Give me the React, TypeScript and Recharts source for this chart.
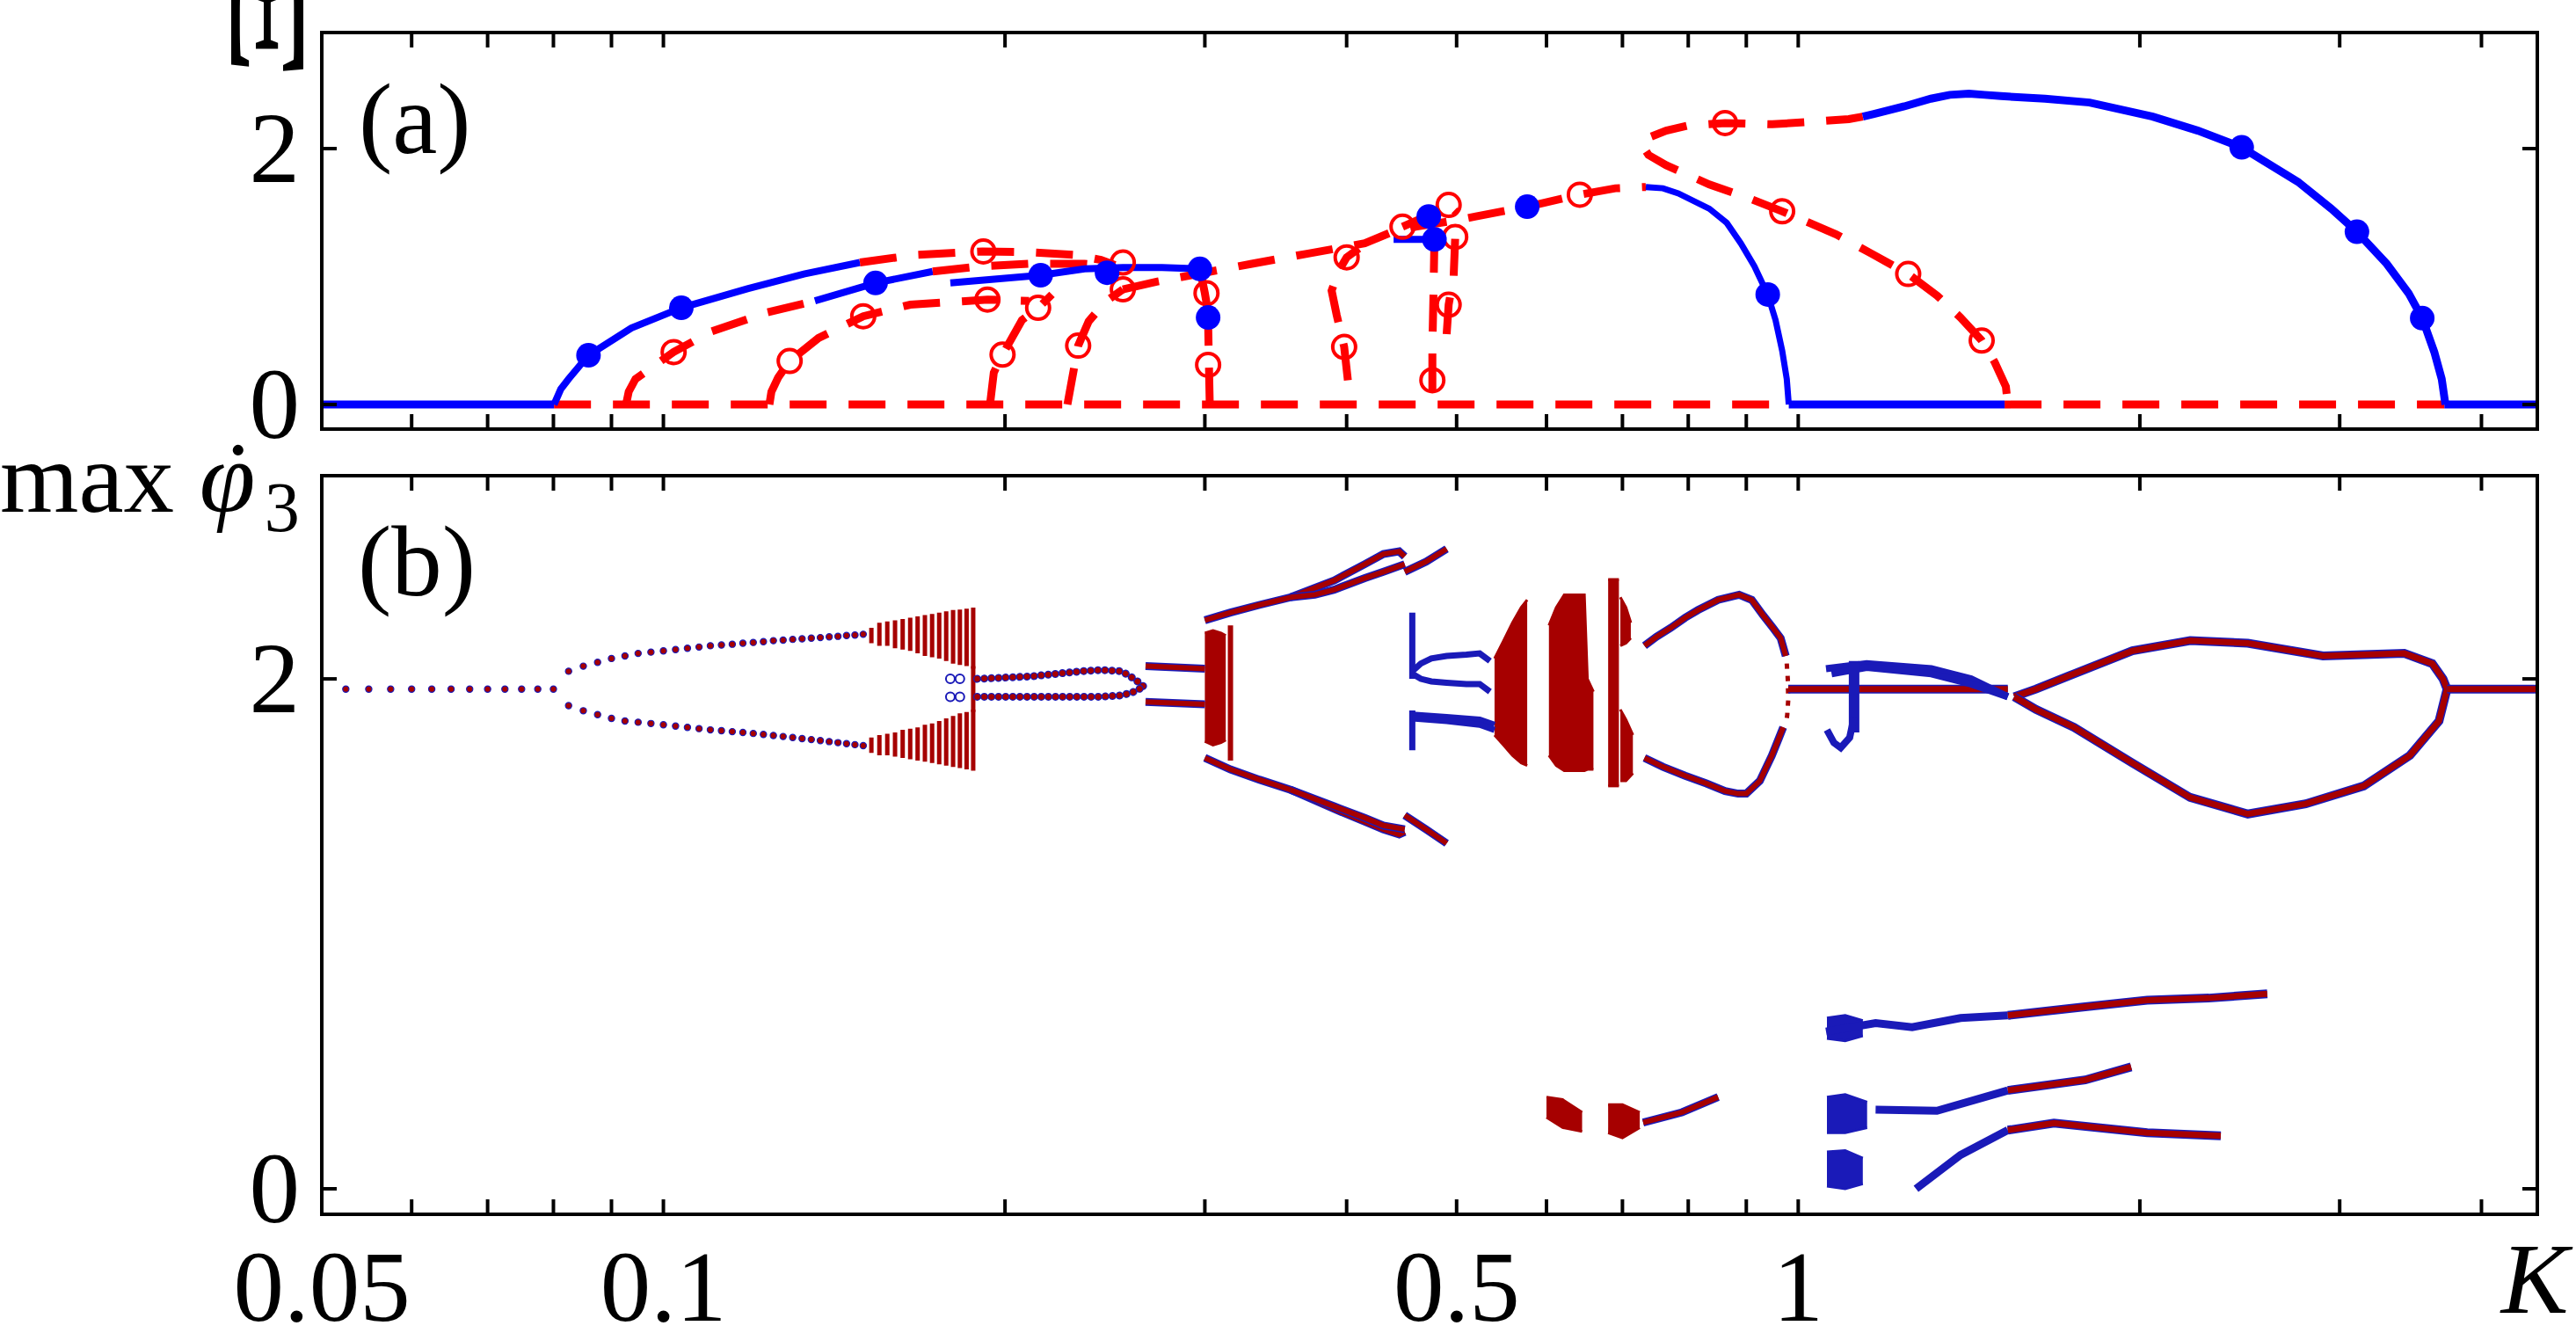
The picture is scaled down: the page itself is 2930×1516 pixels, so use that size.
import React from 'react';
import { ComposedChart, Line, Scatter, Area, XAxis, YAxis } from 'recharts';

type Pt = [number, number];
type Rg = [number, number, number];

const K_MIN = 0.05;
const K_MAX = 4.48;
const kTicks = [0.05, 0.06, 0.07, 0.08, 0.09, 0.1, 0.2, 0.3, 0.4, 0.5, 0.6, 0.7, 0.8, 0.9, 1, 2, 3, 4];
const kLabels: Record<string, string> = { '0.05': '0.05', '0.1': '0.1', '0.5': '0.5', '1': '1' };
const yTicks = [0, 2];

// ---------- panel (a): Xi vs K ----------
const baseBlue1: Pt[] = [[0.05, 0], [0.0801, 0]];
const baseRed1: Pt[] = [[0.0801, 0], [0.981, 0]];
const baseBlue2: Pt[] = [[0.981, 0], [1.52, 0]];
const baseRed2: Pt[] = [[1.52, 0], [3.71, 0]];
const baseBlue3: Pt[] = [[3.71, 0], [4.48, 0]];

const br1Blue: Pt[] = [[0.0801, 0], [0.0812, 0.12], [0.0825, 0.2], [0.0859, 0.385], [0.0937, 0.598], [0.1037, 0.756], [0.1186, 0.905], [0.133, 1.02], [0.149, 1.11]];
const br1Red: Pt[] = [[0.149, 1.11], [0.167, 1.17], [0.191, 1.196], [0.21, 1.19], [0.23, 1.17], [0.243, 1.13], [0.25, 1.09]];
const br2RedA: Pt[] = [[0.0927, 0], [0.0932, 0.1], [0.0945, 0.2], [0.1021, 0.41], [0.1102, 0.57], [0.1234, 0.72], [0.136, 0.81]];
const br2Blue: Pt[] = [[0.136, 0.81], [0.1538, 0.95], [0.1727, 1.04]];
const br2RedB: Pt[] = [[0.1727, 1.04], [0.19, 1.08], [0.21, 1.1], [0.235, 1.1], [0.25, 1.08]];
const br3Red: Pt[] = [[0.124, 0], [0.1245, 0.1], [0.1262, 0.21], [0.1292, 0.34], [0.137, 0.52], [0.15, 0.69], [0.165, 0.78], [0.193, 0.82], [0.21, 0.81]];
const br4Red: Pt[] = [[0.194, 0], [0.1955, 0.25], [0.199, 0.39], [0.207, 0.66], [0.214, 0.756], [0.22, 0.86]];
const br5Red: Pt[] = [[0.227, 0], [0.2297, 0.25], [0.232, 0.46], [0.237, 0.65], [0.245, 0.8], [0.254, 0.9]];
const blueMid: Pt[] = [[0.179, 0.95], [0.215, 1.01], [0.235, 1.06], [0.254, 1.07], [0.275, 1.07], [0.297, 1.06]];
const br6RedA: Pt[] = [[0.303, 0], [0.3025, 0.31], [0.302, 0.64]];
const br6Blue: Pt[] = [[0.302, 0.64], [0.302, 0.72]];
const br6RedB: Pt[] = [[0.302, 0.72], [0.3, 0.87], [0.297, 1.06]];
const mainRed: Pt[] = [[0.254, 0.9], [0.272, 0.96], [0.33, 1.1], [0.37, 1.18], [0.415, 1.26], [0.439, 1.35], [0.46, 1.39], [0.5, 1.44], [0.52, 1.47], [0.577, 1.546], [0.642, 1.64], [0.69, 1.69], [0.734, 1.7]];
const blueFall: Pt[] = [[0.734, 1.7], [0.76, 1.69], [0.784, 1.65], [0.835, 1.53], [0.865, 1.42], [0.89, 1.26], [0.915, 1.08], [0.94, 0.86], [0.955, 0.66], [0.968, 0.42], [0.977, 0.2], [0.981, 0]];
const foldRed: Pt[] = [[1.14, 2.25], [1.108, 2.23], [1.03, 2.21], [0.949, 2.19], [0.862, 2.2], [0.8, 2.18], [0.765, 2.14], [0.74, 2.09], [0.727, 2.04], [0.738, 1.95], [0.765, 1.87], [0.835, 1.72], [0.9, 1.62], [0.968, 1.51], [1.08, 1.33], [1.16, 1.18], [1.25, 1.02], [1.326, 0.85], [1.39, 0.68], [1.451, 0.5], [1.49, 0.33], [1.524, 0.14], [1.53, 0]];
const archBlue: Pt[] = [[1.14, 2.25], [1.166, 2.27], [1.24, 2.33], [1.309, 2.39], [1.36, 2.42], [1.414, 2.43], [1.46, 2.42], [1.509, 2.41], [1.65, 2.39], [1.806, 2.36], [2.053, 2.25], [2.25, 2.14], [2.459, 2.01], [2.757, 1.74], [2.95, 1.53], [3.107, 1.35], [3.3, 1.1], [3.45, 0.87], [3.547, 0.675], [3.635, 0.41], [3.69, 0.2], [3.718, 0]];
const br7Red: Pt[] = [[0.401, 0.19], [0.398, 0.45], [0.392, 0.7], [0.388, 0.89], [0.394, 1.05], [0.4, 1.15], [0.41, 1.22]];
const br8Red: Pt[] = [[0.476, 0.11], [0.476, 0.45], [0.477, 0.83], [0.478, 1.29]];
const br9Red: Pt[] = [[0.49, 0.55], [0.492, 0.78], [0.497, 1.0], [0.4986, 1.31]];
const blueCluster: Pt[] = [[0.44, 1.29], [0.478, 1.29], [0.485, 1.31]];
const redCluster: Pt[] = [[0.448, 1.39], [0.47, 1.47], [0.492, 1.56], [0.5, 1.5]];

const blueDotsA: Pt[] = [[0.0859, 0.385], [0.1037, 0.756], [0.1538, 0.95], [0.215, 1.01], [0.246, 1.03], [0.297, 1.06], [0.302, 0.68], [0.4725, 1.47], [0.478, 1.29], [0.577, 1.546], [0.94, 0.86], [2.459, 2.01], [3.107, 1.35], [3.547, 0.675]];
const redRingsA: Pt[] = [[0.1021, 0.41], [0.1292, 0.34], [0.15, 0.69], [0.1914, 1.196], [0.193, 0.82], [0.199, 0.39], [0.2139, 0.756], [0.232, 0.46], [0.254, 0.9], [0.254, 1.11], [0.302, 0.31], [0.301, 0.87], [0.398, 0.45], [0.4, 1.15], [0.448, 1.39], [0.476, 0.19], [0.492, 0.78], [0.492, 1.56], [0.4986, 1.31], [0.642, 1.64], [0.862, 2.2], [0.968, 1.51], [1.25, 1.02], [1.451, 0.5]];

// ---------- panel (b): max phi3' vs K ----------
const bP1: Pt[] = [[0.0525, 1.96], [0.055, 1.96], [0.0575, 1.96], [0.06, 1.96], [0.0625, 1.96], [0.065, 1.96], [0.0675, 1.96], [0.07, 1.96], [0.0725, 1.96], [0.075, 1.96], [0.0775, 1.96], [0.08, 1.96]];
const bP2Up: Pt[] = [[0.0825, 2.03], [0.085, 2.05], [0.0875, 2.065], [0.09, 2.08], [0.0925, 2.09], [0.095, 2.1], [0.0975, 2.105], [0.1, 2.11], [0.1025, 2.115], [0.105, 2.12], [0.1075, 2.125], [0.11, 2.13], [0.1125, 2.133], [0.115, 2.136], [0.1175, 2.14], [0.12, 2.143], [0.1225, 2.146], [0.125, 2.15], [0.1275, 2.152], [0.13, 2.155], [0.1325, 2.157], [0.135, 2.16], [0.1375, 2.162], [0.14, 2.165], [0.1425, 2.167], [0.145, 2.17], [0.1475, 2.172], [0.15, 2.175]];
const bP2Lo: Pt[] = [[0.0825, 1.895], [0.085, 1.875], [0.0875, 1.86], [0.09, 1.845], [0.0925, 1.835], [0.095, 1.83], [0.0975, 1.825], [0.1, 1.82], [0.1025, 1.815], [0.105, 1.81], [0.1075, 1.805], [0.11, 1.8], [0.1125, 1.797], [0.115, 1.793], [0.1175, 1.79], [0.12, 1.786], [0.1225, 1.782], [0.125, 1.778], [0.1275, 1.774], [0.13, 1.77], [0.1325, 1.766], [0.135, 1.762], [0.1375, 1.758], [0.14, 1.754], [0.1425, 1.75], [0.145, 1.746], [0.1475, 1.742], [0.15, 1.738]];
const bHatchUp: Rg[] = [[0.1525, 2.14, 2.2], [0.155, 2.13, 2.22], [0.1575, 2.13, 2.225], [0.16, 2.12, 2.23], [0.1625, 2.115, 2.235], [0.165, 2.11, 2.24], [0.1675, 2.1, 2.245], [0.17, 2.09, 2.25], [0.1725, 2.085, 2.255], [0.175, 2.08, 2.26], [0.1775, 2.07, 2.265], [0.18, 2.06, 2.27], [0.1825, 2.055, 2.272], [0.185, 2.05, 2.275], [0.1875, 2.04, 2.28]];
const bHatchLo: Rg[] = [[0.1525, 1.71, 1.77], [0.155, 1.7, 1.78], [0.1575, 1.7, 1.785], [0.16, 1.695, 1.79], [0.1625, 1.69, 1.8], [0.165, 1.685, 1.805], [0.1675, 1.68, 1.81], [0.17, 1.675, 1.82], [0.1725, 1.67, 1.825], [0.175, 1.665, 1.835], [0.1775, 1.66, 1.845], [0.18, 1.655, 1.855], [0.1825, 1.65, 1.865], [0.185, 1.645, 1.87], [0.1875, 1.64, 1.88]];
const bCenter: Rg[] = [[0.1875, 1.87, 2.05]];
const bRings1: Pt[] = [[0.179, 2.0], [0.179, 1.93], [0.1825, 2.0], [0.1825, 1.93]];
const bP2bUp: Pt[] = [[0.189, 2.0], [0.211, 2.01], [0.2335, 2.03], [0.243, 2.035], [0.2534, 2.03], [0.26, 2.0], [0.265, 1.97]];
const bP2bLo: Pt[] = [[0.189, 1.93], [0.211, 1.93], [0.2335, 1.93], [0.243, 1.93], [0.2534, 1.935], [0.26, 1.95], [0.265, 1.97]];
const bP2cUp: Pt[] = [[0.266, 2.05], [0.3, 2.04]];
const bP2cLo: Pt[] = [[0.266, 1.91], [0.3, 1.9]];
const bBand: Rg[] = [[0.3, 1.755, 2.18], [0.305, 1.74, 2.19], [0.31, 1.75, 2.18], [0.313, 1.76, 2.17]];
const bBandTall: Rg[] = [[0.316, 1.68, 2.21]];
const bUp1: Pt[] = [[0.3, 2.23], [0.316, 2.26], [0.335, 2.29], [0.357, 2.32], [0.39, 2.386], [0.415, 2.45], [0.431, 2.49], [0.445, 2.5], [0.45, 2.48]];
const bUp2: Pt[] = [[0.357, 2.32], [0.375, 2.33], [0.39, 2.35], [0.415, 2.395], [0.431, 2.42], [0.45, 2.45]];
const bUp3: Pt[] = [[0.45, 2.42], [0.47, 2.46], [0.49, 2.51]];
const bLo1: Pt[] = [[0.3, 1.69], [0.316, 1.645], [0.335, 1.605], [0.357, 1.565], [0.39, 1.49], [0.415, 1.44], [0.431, 1.41], [0.445, 1.39], [0.45, 1.4]];
const bLo2: Pt[] = [[0.357, 1.565], [0.39, 1.5], [0.415, 1.455], [0.431, 1.425], [0.45, 1.41]];
const bLo3: Pt[] = [[0.45, 1.465], [0.47, 1.41], [0.49, 1.355]];
const bBlueCol: Rg[] = [[0.457, 2.0, 2.26], [0.457, 1.72, 1.876]];
const bBub1: Pt[] = [[0.457, 2.03], [0.465, 2.06], [0.475, 2.08], [0.49, 2.09], [0.51, 2.095], [0.524, 2.1], [0.535, 2.07]];
const bBub2: Pt[] = [[0.457, 2.02], [0.465, 2.0], [0.475, 1.99], [0.49, 1.985], [0.51, 1.98], [0.524, 1.98], [0.535, 1.95]];
const bBub3: Pt[] = [[0.457, 1.86], [0.49, 1.85], [0.524, 1.84], [0.54, 1.82]];
const bBub4: Pt[] = [[0.457, 1.845], [0.49, 1.835], [0.524, 1.82], [0.54, 1.8]];
const bBlob1: Rg[] = [[0.54, 1.78, 2.08], [0.55, 1.74, 2.15], [0.56, 1.7, 2.22], [0.57, 1.67, 2.28], [0.577, 1.66, 2.31]];
const bBlob2: Rg[] = [[0.603, 1.7, 2.21], [0.612, 1.66, 2.28], [0.622, 1.64, 2.33], [0.64, 1.64, 2.33], [0.648, 1.64, 2.33], [0.652, 1.645, 2.0], [0.66, 1.645, 1.95]];
const bBlob3: Rg[] = [[0.68, 1.58, 2.39], [0.695, 1.58, 2.39]];
const bBlob3Lo: Rg[] = [[0.697, 1.6, 1.88], [0.705, 1.6, 1.84], [0.715, 1.63, 1.78]];
const bBlob3Up: Rg[] = [[0.697, 2.13, 2.32], [0.705, 2.14, 2.28], [0.712, 2.16, 2.22]];
const bLoopUp: Pt[] = [[0.732, 2.13], [0.75, 2.165], [0.772, 2.2], [0.795, 2.24], [0.816, 2.27], [0.85, 2.31], [0.887, 2.33], [0.91, 2.31], [0.931, 2.25], [0.95, 2.2], [0.965, 2.16], [0.975, 2.09]];
const bLoopLo: Pt[] = [[0.732, 1.69], [0.76, 1.655], [0.795, 1.62], [0.83, 1.59], [0.862, 1.56], [0.885, 1.55], [0.9, 1.55], [0.925, 1.6], [0.948, 1.7], [0.962, 1.77], [0.97, 1.81]];
const bLoopEnd: Pt[] = [[0.977, 2.06], [0.978, 2.03], [0.979, 2.0], [0.98, 1.92], [0.979, 1.89], [0.978, 1.86], [0.976, 1.83]];
const bLine1: Pt[] = [[0.98, 1.96], [1.53, 1.96]];
const bLoopRUp: Pt[] = [[1.55, 1.93], [1.62, 1.96], [1.75, 2.02], [1.97, 2.11], [2.215, 2.15], [2.49, 2.14], [2.9, 2.09], [3.15, 2.095], [3.42, 2.1], [3.62, 2.06], [3.7, 2.0], [3.73, 1.96]];
const bLoopRLo: Pt[] = [[1.55, 1.93], [1.62, 1.88], [1.75, 1.81], [1.97, 1.67], [2.215, 1.535], [2.49, 1.47], [2.8, 1.51], [3.15, 1.58], [3.46, 1.7], [3.67, 1.835], [3.73, 1.96]];
const bLine2: Pt[] = [[3.73, 1.96], [4.48, 1.96]];
const bBundle1: Pt[] = [[1.058, 2.04], [1.149, 2.06], [1.31, 2.04], [1.42, 2.0], [1.53, 1.93]];
const bBundle2: Pt[] = [[1.07, 2.02], [1.149, 2.045], [1.31, 2.02], [1.42, 1.98], [1.53, 1.93]];
const bBlueBar: Rg[] = [[1.12, 1.79, 2.07]];
const bHook: Pt[] = [[1.06, 1.8], [1.075, 1.75], [1.09, 1.73], [1.11, 1.77], [1.12, 1.85]];
const bLowABlue: Pt[] = [[1.058, 0.617], [1.17, 0.65], [1.26, 0.634], [1.39, 0.67], [1.53, 0.68]];
const bLowARed: Pt[] = [[1.53, 0.68], [1.79, 0.714], [2.03, 0.74], [2.3, 0.748], [2.59, 0.765]];
const bLowBBlue: Pt[] = [[1.17, 0.31], [1.325, 0.306], [1.53, 0.386]];
const bLowBRed: Pt[] = [[1.53, 0.386], [1.79, 0.427], [1.965, 0.478]];
const bLowCBlue: Pt[] = [[1.27, 0.0], [1.39, 0.133], [1.53, 0.23]];
const bLowCRed: Pt[] = [[1.53, 0.23], [1.68, 0.258], [2.03, 0.22], [2.357, 0.208]];
const bLowBlueBlobs: Rg[] = [[1.06, 0.59, 0.67], [1.1, 0.58, 0.68], [1.14, 0.6, 0.66]];
const bLowBlueBlobs2: Rg[] = [[1.06, 0.22, 0.36], [1.1, 0.22, 0.37], [1.15, 0.24, 0.34]];
const bLowBlueBlobs3: Rg[] = [[1.06, 0.01, 0.145], [1.1, 0.0, 0.15], [1.14, 0.02, 0.12]];
const bLowRedBlob1: Rg[] = [[0.6, 0.28, 0.36], [0.62, 0.24, 0.35], [0.645, 0.225, 0.3]];
const bLowRedBlob2: Rg[] = [[0.68, 0.22, 0.33], [0.7, 0.2, 0.33], [0.725, 0.24, 0.3]];
const bLowRedCurve: Pt[] = [[0.73, 0.26], [0.79, 0.3], [0.85, 0.36]];

// ---------- styling ----------
const RED_A = '#ff0000';
const BLUE_A = '#0000ff';
const RED_B = '#a60000';
const BLUE_B = '#1a1ab8';
const FONT = '"Liberation Serif", "Times New Roman", serif';
const FS = 115;
const DASH = '42 25';

const pts = (a: Pt[]) => a.map(([k, v]) => ({ k, v }));
const segs = (a: Rg[]) => a.flatMap(([k, lo, hi]) => [{ k, v: lo }, { k, v: hi }, { k, v: null }]);
const rng = (a: Rg[]) => a.map(([k, lo, hi]) => ({ k, r: [lo, hi] }));

function ln(key: string, data: any[], stroke: string, width: number, dash?: string, cap: any = 'butt') {
  return (
    <Line key={key} data={data} dataKey="v" type="linear" stroke={stroke} strokeWidth={width}
      strokeDasharray={dash} strokeLinecap={cap} dot={false} activeDot={false}
      isAnimationActive={false} connectNulls={false} />
  );
}
function outlined(key: string, data: Pt[], w = 6) {
  return [ln(key + 'b', pts(data), BLUE_B, w + 3), ln(key + 'r', pts(data), RED_B, w)];
}
function blob(key: string, data: Rg[], color = RED_B) {
  return (
    <Area key={key} data={rng(data)} dataKey="r" type="linear" stroke={color} strokeWidth={3}
      fill={color} fillOpacity={1} dot={false} activeDot={false} isAnimationActive={false} />
  );
}

const axisStyle = { stroke: '#000', strokeWidth: 4, strokeLinecap: 'square' as const };

function frame(yDomain: [number, number], withLabels: boolean, labelDy: number) {
  return [
    <XAxis key="xb" xAxisId={0} dataKey="k" type="number" scale="log" domain={[K_MIN, K_MAX]} allowDataOverflow
      ticks={kTicks} interval={0} height={1} tickSize={0} tickMargin={0} tickLine={false} axisLine={axisStyle}
      tick={(p: any) => (
        <g>
          <line x1={p.x} x2={p.x} y1={p.y} y2={p.y - 17} stroke="#000" strokeWidth={4} />
          {withLabels && kLabels[String(p.payload.value)] ? (
            <text x={p.x} y={p.y + labelDy} textAnchor="middle" fontFamily={FONT} fontSize={FS} fill="#000">
              {kLabels[String(p.payload.value)]}
            </text>
          ) : null}
        </g>
      )} />,
    <XAxis key="xt" xAxisId="top" orientation="top" dataKey="k" type="number" scale="log" domain={[K_MIN, K_MAX]} allowDataOverflow
      ticks={kTicks} interval={0} height={1} tickSize={0} tickMargin={0} tickLine={false} axisLine={axisStyle}
      tick={(p: any) => <line x1={p.x} x2={p.x} y1={p.y} y2={p.y + 17} stroke="#000" strokeWidth={4} />} />,
    <YAxis key="yl" yAxisId={0} dataKey="v" type="number" domain={yDomain} allowDataOverflow ticks={yTicks} interval={0}
      width={1} tickSize={0} tickMargin={0} tickLine={false} axisLine={axisStyle}
      tick={(p: any) => (
        <g>
          <line x1={p.x} x2={p.x + 17} y1={p.y} y2={p.y} stroke="#000" strokeWidth={4} />
          <text x={p.x - 25} y={p.y + 38} textAnchor="end" fontFamily={FONT} fontSize={FS} fill="#000">{p.payload.value}</text>
        </g>
      )} />,
    <YAxis key="yr" yAxisId="right" orientation="right" dataKey="v" type="number" domain={yDomain} allowDataOverflow ticks={yTicks}
      interval={0} width={1} tickSize={0} tickMargin={0} tickLine={false} axisLine={axisStyle}
      tick={(p: any) => <line x1={p.x} x2={p.x - 17} y1={p.y} y2={p.y} stroke="#000" strokeWidth={4} />} />,
  ];
}

const blueDot = (p: any) => <circle cx={p.cx} cy={p.cy} r={14} fill={BLUE_A} />;
const redRing = (p: any) => <circle cx={p.cx} cy={p.cy} r={13} fill="none" stroke={RED_A} strokeWidth={4} />;
const smallDot = (p: any) => <circle cx={p.cx} cy={p.cy} r={3.6} fill={RED_B} stroke={BLUE_B} strokeWidth={1.2} />;
const smallRing = (p: any) => <circle cx={p.cx} cy={p.cy} r={5} fill="none" stroke={BLUE_B} strokeWidth={2} />;

function PanelA() {
  const red = (k: string, d: Pt[]) => ln(k, pts(d), RED_A, 9, DASH);
  const blue = (k: string, d: Pt[], w = 8) => ln(k, pts(d), BLUE_A, w);
  return (
    <ComposedChart width={2930} height={540} margin={{ top: 36, right: 43, bottom: 51, left: 365 }}>
      {frame([-0.192, 2.907], false, 0)}
      {red('r1', baseRed1)}
      {red('r2', baseRed2)}
      {blue('b1', baseBlue1, 9)}
      {blue('b2', baseBlue2, 9)}
      {blue('b3', baseBlue3, 9)}
      {blue('br1b', br1Blue)}
      {red('br1r', br1Red)}
      {red('br2a', br2RedA)}
      {blue('br2b', br2Blue)}
      {red('br2c', br2RedB)}
      {red('br3', br3Red)}
      {red('br4', br4Red)}
      {red('br5', br5Red)}
      {blue('bmid', blueMid)}
      {red('br6a', br6RedA)}
      {blue('br6b', br6Blue)}
      {red('br6c', br6RedB)}
      {red('main', mainRed)}
      {blue('fall', blueFall, 7)}
      {red('fold', foldRed)}
      {blue('arch', archBlue, 9)}
      {red('br7', br7Red)}
      {red('br8', br8Red)}
      {red('br9', br9Red)}
      {blue('bcl', blueCluster)}
      {red('rcl', redCluster)}
      <Scatter data={pts(redRingsA)} shape={redRing} isAnimationActive={false} />
      <Scatter data={pts(blueDotsA)} shape={blueDot} isAnimationActive={false} />
    </ComposedChart>
  );
}

function PanelB() {
  return (
    <ComposedChart width={2930} height={986} margin={{ top: 10, right: 43, bottom: 134, left: 365 }}>
      {frame([-0.1, 2.797], true, 121)}
      {blob('bl1', bBlob1)}
      {blob('bl2', bBlob2)}
      {blob('bl3', bBlob3)}
      {blob('bl3l', bBlob3Lo)}
      {blob('bl3u', bBlob3Up)}
      {blob('band', bBand)}
      {blob('lbb1', bLowBlueBlobs, BLUE_B)}
      {blob('lbb2', bLowBlueBlobs2, BLUE_B)}
      {blob('lbb3', bLowBlueBlobs3, BLUE_B)}
      {blob('lrb1', bLowRedBlob1)}
      {blob('lrb2', bLowRedBlob2)}
      {ln('hu', segs(bHatchUp), RED_B, 5)}
      {ln('hl', segs(bHatchLo), RED_B, 5)}
      {ln('hc', segs(bCenter), RED_B, 5)}
      {ln('bt', segs(bBandTall), RED_B, 6)}
      {ln('p2bub', pts(bP2bUp), BLUE_B, 9, '0.1 8', 'round')}
      {ln('p2bur', pts(bP2bUp), RED_B, 6.5, '0.1 8', 'round')}
      {ln('p2blb', pts(bP2bLo), BLUE_B, 9, '0.1 8', 'round')}
      {ln('p2blr', pts(bP2bLo), RED_B, 6.5, '0.1 8', 'round')}
      {outlined('p2cu', bP2cUp)}
      {outlined('p2cl', bP2cLo)}
      {outlined('u1', bUp1)}
      {outlined('u2', bUp2)}
      {outlined('u3', bUp3)}
      {outlined('l1', bLo1)}
      {outlined('l2', bLo2)}
      {outlined('l3', bLo3)}
      {ln('bcol', segs(bBlueCol), BLUE_B, 7)}
      {ln('bub1', pts(bBub1), BLUE_B, 7)}
      {ln('bub2', pts(bBub2), BLUE_B, 7)}
      {ln('bub3', pts(bBub3), BLUE_B, 7)}
      {ln('bub4', pts(bBub4), BLUE_B, 7)}
      {outlined('lu', bLoopUp)}
      {outlined('ll', bLoopLo)}
      {ln('le', pts(bLoopEnd), RED_B, 5, '6 8')}
      {outlined('line1', bLine1, 7)}
      {outlined('lru', bLoopRUp, 7)}
      {outlined('lrl', bLoopRLo, 7)}
      {outlined('line2', bLine2, 7)}
      {ln('bd1', pts(bBundle1), BLUE_B, 8)}
      {ln('bd2', pts(bBundle2), BLUE_B, 8)}
      {ln('bbar', segs(bBlueBar), BLUE_B, 12)}
      {ln('hook', pts(bHook), BLUE_B, 8)}
      {ln('laB', pts(bLowABlue), BLUE_B, 9)}
      {outlined('laR', bLowARed, 7)}
      {ln('lbB', pts(bLowBBlue), BLUE_B, 9)}
      {outlined('lbR', bLowBRed, 7)}
      {ln('lcB', pts(bLowCBlue), BLUE_B, 9)}
      {outlined('lcR', bLowCRed, 7)}
      {outlined('lrc', bLowRedCurve, 6)}
      <Scatter data={pts(bRings1)} shape={smallRing} isAnimationActive={false} />
      <Scatter data={pts(bP1)} shape={smallDot} isAnimationActive={false} />
      <Scatter data={pts(bP2Up)} shape={smallDot} isAnimationActive={false} />
      <Scatter data={pts(bP2Lo)} shape={smallDot} isAnimationActive={false} />
    </ComposedChart>
  );
}

export default function App() {
  return (
    <div style={{ position: 'absolute', left: 0, top: 0, width: 2930, height: 1516, background: '#fff', overflow: 'hidden' }}>
      <div style={{ position: 'absolute', left: 0, top: 0 }}><PanelA /></div>
      <div style={{ position: 'absolute', left: 0, top: 530 }}><PanelB /></div>
      <svg width={2930} height={1516} style={{ position: 'absolute', left: 0, top: 0, pointerEvents: 'none' }}>
        <g fontFamily={FONT} fill="#000">
          <text transform="translate(345,24) rotate(-90) scale(1.7,1)" textAnchor="middle" fontSize={125}>Ξ</text>
          <text x={408} y={174} fontSize={FS}>(a)</text>
          <text x={407} y={677} fontSize={FS}>(b)</text>
          <text x={0} y={582} fontSize={FS}>
            max{' '}
            <tspan fontStyle="italic">φ</tspan>
            <tspan dx={-39}>˙</tspan>
            <tspan fontSize={80} dx={11} dy={22}>3</tspan>
          </text>
          <text x={2883} y={1493} fontSize={FS} fontStyle="italic" textAnchor="middle">K</text>
        </g>
      </svg>
    </div>
  );
}
